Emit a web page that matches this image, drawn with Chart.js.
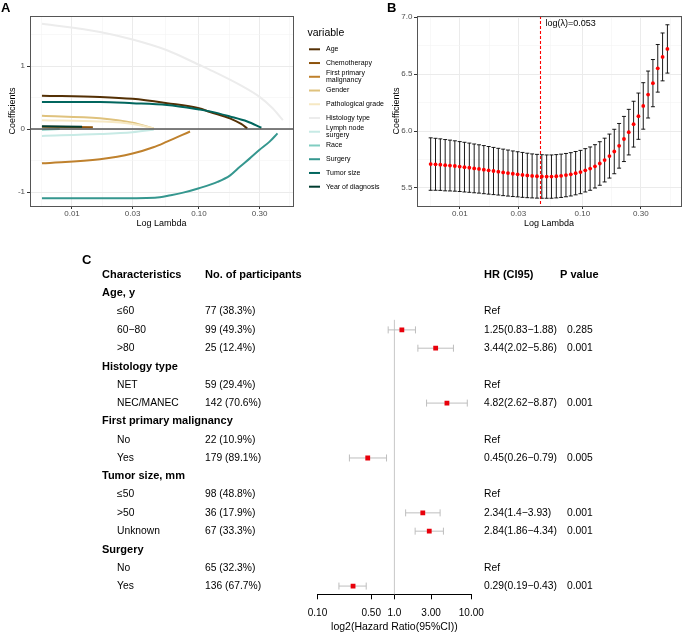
<!DOCTYPE html>
<html>
<head>
<meta charset="utf-8">
<script src="https://cdn.jsdelivr.net/npm/chart.js@4.4.1/dist/chart.umd.min.js"></script>
<style>
  body { margin: 0; background: #fff; }
  #wrap { position: relative; width: 685px; height: 635px; overflow: hidden; font-family: 'Liberation Sans', Arial, sans-serif; }
  canvas { position: absolute; }
  .tag { position: absolute; font-weight: bold; font-size: 13px; line-height: 13px; color: #000; }
</style>
</head>
<body>
<div id="wrap">
  <canvas id="chartA" width="410" height="235" style="left:0;top:0"></canvas>
  <canvas id="chartB" width="305" height="235" style="left:380px;top:0"></canvas>
  <canvas id="chartC" width="685" height="395" style="left:0;top:240px"></canvas>
  <div class="tag" style="left:1px;top:1px">A</div>
  <div class="tag" style="left:387px;top:1px">B</div>
  <div class="tag" style="left:82px;top:253px">C</div>
</div>
<script>
// ---- panel A: lasso coefficient paths, points are [lambda, coefficient]
const pathVars = ['Age', 'Chemotherapy', 'First primary\nmalignancy', 'Gender', 'Pathological grade',
  'Histology type', 'Lymph node\nsurgery', 'Race', 'Surgery', 'Tumor size', 'Year of diagnosis'];
const pathColors = ['#543005', '#8C510A', '#BF812D', '#DFC27D', '#F6E8C3', '#ECECEC',
  '#C7EAE5', '#80CDC1', '#35978F', '#01665E', '#003C30'];

const ageCoef = [[0.0058, 0.53], [0.0166, 0.51], [0.03, 0.48], [0.056, 0.41], [0.1, 0.33], [0.122, 0.27], [0.175, 0.17], [0.215, 0.08], [0.24, 0.01]];
const chemoCoef = [[0.0058, 0.035], [0.0146, 0.03]];
const firstCoef = [[0.0058, -0.545], [0.0166, -0.48], [0.03, -0.39], [0.0437, -0.29], [0.056, -0.2], [0.085, -0.04]];
const genderCoef = [[0.0058, 0.21], [0.0166, 0.17], [0.03, 0.10], [0.044, 0.01]];
const gradeCoef = [[0.0058, 0.14], [0.0166, 0.12], [0.03, 0.08], [0.044, 0.01]];
const histCoef = [[0.0058, 1.67], [0.0166, 1.54], [0.03, 1.42], [0.056, 1.25], [0.1, 1.02], [0.122, 0.94], [0.21, 0.70], [0.30, 0.51], [0.38, 0.33], [0.458, 0.14]];
const lymphCoef = [[0.0058, -0.11], [0.0166, -0.08], [0.03, -0.05], [0.044, -0.01]];
const raceCoef = [[0.0058, -0.01], [0.008, 0.0]];
const surgeryCoef = [[0.0058, -1.10], [0.02, -1.10], [0.045, -1.09], [0.06, -1.05], [0.075, -1.01], [0.1, -0.94], [0.14, -0.84], [0.175, -0.74], [0.21, -0.60], [0.25, -0.47], [0.30, -0.33], [0.36, -0.20], [0.415, -0.07]];
const tumorCoef = [[0.0058, 0.43], [0.0166, 0.43], [0.03, 0.41], [0.056, 0.38], [0.1, 0.31], [0.122, 0.28], [0.175, 0.20], [0.24, 0.12], [0.31, 0.02]];
const yearCoef = [[0.0058, 0.045], [0.012, 0.035]];
const pathData = [ageCoef, chemoCoef, firstCoef, genderCoef, gradeCoef, histCoef, lymphCoef, raceCoef, surgeryCoef, tumorCoef, yearCoef];

const lambdaTicks = [0.01, 0.03, 0.1, 0.3];
const lambdaMinor = [0.00577, 0.01733, 0.0548, 0.1733, 0.519];

// ---- panel B: cross-validation curve
const cvLambda = [0.00578, 0.00633, 0.00693, 0.00759, 0.00831, 0.00910, 0.00997, 0.01091, 0.01195, 0.01309,
  0.01433, 0.01569, 0.01718, 0.01882, 0.02061, 0.02257, 0.02471, 0.02706, 0.02963, 0.03245,
  0.03553, 0.03890, 0.04261, 0.04666, 0.05109, 0.05595, 0.06126, 0.06708, 0.07345, 0.08044,
  0.08808, 0.09645, 0.1056, 0.1157, 0.1267, 0.1387, 0.1519, 0.1663, 0.1821, 0.1994,
  0.2184, 0.2391, 0.2618, 0.2867, 0.3139, 0.3438, 0.3764, 0.4122, 0.4514, 0.4943];
const cvMean = [5.71, 5.708, 5.705, 5.70, 5.697, 5.693, 5.688, 5.683, 5.678, 5.672,
  5.667, 5.661, 5.655, 5.649, 5.643, 5.637, 5.631, 5.625, 5.62, 5.615,
  5.61, 5.606, 5.603, 5.601, 5.60, 5.60, 5.603, 5.607, 5.613, 5.62,
  5.63, 5.64, 5.655, 5.67, 5.69, 5.715, 5.745, 5.78, 5.82, 5.87,
  5.93, 5.99, 6.06, 6.13, 6.22, 6.32, 6.42, 6.55, 6.65, 6.72];
const cvSd = [0.230, 0.228, 0.226, 0.225, 0.223, 0.221, 0.219, 0.218, 0.216, 0.214,
  0.212, 0.211, 0.209, 0.207, 0.205, 0.204, 0.202, 0.200, 0.198, 0.197,
  0.195, 0.193, 0.192, 0.191, 0.190, 0.190, 0.190, 0.190, 0.190, 0.190,
  0.190, 0.190, 0.190, 0.190, 0.190, 0.191, 0.192, 0.193, 0.195, 0.196,
  0.198, 0.200, 0.201, 0.203, 0.204, 0.206, 0.207, 0.209, 0.210, 0.212];
const lambdaBest = 0.0447;
const lambdaText = 'log(λ)=0.053';
const cvTicks = [5.5, 6.0, 6.5, 7.0];
const cvMinor = [5.75, 6.25, 6.75];

// ---- panel C: forest table
const rowLabels = ['Age, y', '≤60', '60−80', '>80', 'Histology type', 'NET', 'NEC/MANEC',
  'First primary malignancy', 'No', 'Yes', 'Tumor size, mm', '≤50', '>50', 'Unknown', 'Surgery', 'No', 'Yes'];
const isGroup = [1, 0, 0, 0, 1, 0, 0, 1, 0, 0, 1, 0, 0, 0, 1, 0, 0];
const participants = ['', '77 (38.3%)', '99 (49.3%)', '25 (12.4%)', '', '59 (29.4%)', '142 (70.6%)',
  '', '22 (10.9%)', '179 (89.1%)', '', '98 (48.8%)', '36 (17.9%)', '67 (33.3%)', '', '65 (32.3%)', '136 (67.7%)'];
const hr = [null, null, 1.25, 3.44, null, null, 4.82, null, null, 0.45, null, null, 2.34, 2.84, null, null, 0.29];
const hrLow = [null, null, 0.83, 2.02, null, null, 2.62, null, null, 0.26, null, null, 1.4, 1.86, null, null, 0.19];
const hrHigh = [null, null, 1.88, 5.86, null, null, 8.87, null, null, 0.79, null, null, 3.93, 4.34, null, null, 0.43];
const hrText = ['', 'Ref', '1.25(0.83−1.88)', '3.44(2.02−5.86)', '', 'Ref', '4.82(2.62−8.87)',
  '', 'Ref', '0.45(0.26−0.79)', '', 'Ref', '2.34(1.4−3.93)', '2.84(1.86−4.34)', '', 'Ref', '0.29(0.19−0.43)'];
const pText = ['', '', '0.285', '0.001', '', '', '0.001', '', '', '0.005', '', '', '0.001', '0.001', '', '', '0.001'];
const headers = ['Characteristics', 'No. of participants', 'HR (CI95)', 'P value'];
const forestTicks = [0.1, 0.5, 1, 3, 10];
const forestTickLabels = ['0.10', '0.50', '1.0', '3.00', '10.00'];

Chart.defaults.font.family = "'Liberation Sans', Arial, sans-serif";
Chart.defaults.animation = false;
Chart.defaults.events = [];
Chart.defaults.plugins.legend.display = false;
Chart.defaults.plugins.tooltip.enabled = false;

const tickFont = { size: 8 };
const titleFont = { size: 9 };

function gridOpts(majors) {
  return {
    color: c => majors.includes(c.tick.value) ? '#EBEBEB' : '#F4F4F4',
    lineWidth: c => majors.includes(c.tick.value) ? 1 : 0.6,
    tickLength: 3,
    tickColor: c => majors.includes(c.tick.value) ? '#333' : 'rgba(0,0,0,0)'
  };
}
function setTicks(majors, minors, min, max) {
  return s => {
    s.ticks = majors.concat(minors).filter(v => v >= min && v <= max).sort((a, b) => a - b).map(v => ({ value: v }));
  };
}

const panelBox = {
  id: 'panelBox',
  afterDraw(chart) {
    const a = chart.chartArea, ctx = chart.ctx;
    ctx.save();
    ctx.strokeStyle = '#555';
    ctx.lineWidth = 1;
    ctx.strokeRect(Math.round(a.left) + 0.5, Math.round(a.top) + 0.5, Math.round(a.right - a.left), Math.round(a.bottom - a.top));
    ctx.restore();
  }
};

// zero line + legend for A
const pathExtras = {
  id: 'pathExtras',
  afterDatasetsDraw(chart) {
    const ctx = chart.ctx, a = chart.chartArea;
    const y0 = chart.scales.y.getPixelForValue(0);
    ctx.save();
    ctx.strokeStyle = '#555';
    ctx.lineWidth = 1.3;
    ctx.beginPath(); ctx.moveTo(a.left, y0); ctx.lineTo(a.right, y0); ctx.stroke();
    ctx.restore();
  },
  afterDraw(chart) {
    const ctx = chart.ctx;
    ctx.save();
    ctx.fillStyle = '#000';
    ctx.textBaseline = 'middle';
    ctx.font = "10.5px 'Liberation Sans', Arial";
    ctx.fillText('variable', 307.5, 33);
    ctx.font = "7px 'Liberation Sans', Arial";
    pathVars.forEach((name, i) => {
      const y = 49.3 + 13.74 * i;
      ctx.strokeStyle = pathColors[i];
      ctx.lineWidth = 2;
      ctx.beginPath(); ctx.moveTo(309, y); ctx.lineTo(320, y); ctx.stroke();
      const lines = name.split('\n');
      lines.forEach((t, j) => ctx.fillText(t, 326, y + (j - (lines.length - 1) / 2) * 7));
    });
    ctx.restore();
  }
};

new Chart(document.getElementById('chartA'), {
  type: 'scatter',
  data: {
    datasets: pathData.map((pts, i) => ({
      label: pathVars[i],
      data: pts.map(p => ({ x: p[0], y: p[1] })),
      showLine: true,
      borderColor: pathColors[i],
      backgroundColor: pathColors[i],
      borderWidth: 2,
      pointRadius: 0,
      cubicInterpolationMode: 'monotone',
      order: pathData.length - i
    }))
  },
  options: {
    responsive: false,
    layout: { padding: { left: 0, right: 117, top: 16, bottom: 0 } },
    scales: {
      x: {
        type: 'logarithmic', min: 0.00467, max: 0.55,
        afterBuildTicks: setTicks(lambdaTicks, lambdaMinor, 0.00467, 0.55),
        afterFit: s => { s.height = 29; },
        ticks: { autoSkip: false, maxRotation: 0, padding: 0, color: '#4D4D4D', font: tickFont,
          callback: v => lambdaTicks.includes(v) ? v.toFixed(2) : '' },
        grid: gridOpts(lambdaTicks),
        border: { display: false },
        title: { display: true, text: 'Log Lambda', color: '#000', font: titleFont, padding: { top: 0, bottom: 6 } }
      },
      y: {
        min: -1.222, max: 1.794,
        afterBuildTicks: setTicks([-1, 0, 1], [-0.5, 0.5, 1.5], -1.222, 1.794),
        afterFit: s => { s.width = 30; },
        ticks: { autoSkip: false, padding: 2, color: '#4D4D4D', font: tickFont,
          callback: v => [-1, 0, 1].includes(v) ? String(v) : '' },
        grid: gridOpts([-1, 0, 1]),
        border: { display: false },
        title: { display: true, text: 'Coefficients', color: '#000', font: titleFont, padding: { top: 7.3, bottom: 0 } }
      }
    }
  },
  plugins: [pathExtras, panelBox]
});

// error bars and best lambda for B
const cvExtras = {
  id: 'cvExtras',
  beforeDatasetsDraw(chart) {
    const ctx = chart.ctx, xs = chart.scales.x, ys = chart.scales.y;
    ctx.save();
    ctx.strokeStyle = '#000';
    ctx.lineWidth = 0.9;
    cvLambda.forEach((l, i) => {
      const x = xs.getPixelForValue(l);
      const yt = ys.getPixelForValue(cvMean[i] + cvSd[i]);
      const yb = ys.getPixelForValue(cvMean[i] - cvSd[i]);
      ctx.beginPath();
      ctx.moveTo(x, yt); ctx.lineTo(x, yb);
      ctx.moveTo(x - 2, yt); ctx.lineTo(x + 2, yt);
      ctx.moveTo(x - 2, yb); ctx.lineTo(x + 2, yb);
      ctx.stroke();
    });
    ctx.restore();
  },
  afterDatasetsDraw(chart) {
    const ctx = chart.ctx, xs = chart.scales.x, a = chart.chartArea;
    const xb = Math.round(xs.getPixelForValue(lambdaBest)) + 0.5;
    ctx.save();
    ctx.strokeStyle = '#FF0000';
    ctx.lineWidth = 1.1;
    ctx.setLineDash([3, 2]);
    ctx.beginPath(); ctx.moveTo(xb, a.top); ctx.lineTo(xb, a.bottom); ctx.stroke();
    ctx.setLineDash([]);
    ctx.fillStyle = '#000';
    ctx.font = "9px 'Liberation Sans', Arial";
    ctx.textBaseline = 'middle';
    ctx.fillText(lambdaText, xb + 5, 24);
    ctx.restore();
  }
};

new Chart(document.getElementById('chartB'), {
  type: 'scatter',
  data: {
    datasets: [{
      data: cvLambda.map((l, i) => ({ x: l, y: cvMean[i] })),
      pointRadius: 1.9,
      pointBackgroundColor: '#FF0000',
      pointBorderWidth: 0
    }]
  },
  options: {
    responsive: false,
    layout: { padding: { left: 0, right: 3, top: 16, bottom: 0 } },
    scales: {
      x: {
        type: 'logarithmic', min: 0.00447, max: 0.638,
        afterBuildTicks: setTicks(lambdaTicks, lambdaMinor, 0.00447, 0.638),
        afterFit: s => { s.height = 29; },
        ticks: { autoSkip: false, maxRotation: 0, padding: 0, color: '#4D4D4D', font: tickFont,
          callback: v => lambdaTicks.includes(v) ? v.toFixed(2) : '' },
        grid: gridOpts(lambdaTicks),
        border: { display: false },
        title: { display: true, text: 'Log Lambda', color: '#000', font: titleFont, padding: { top: 0, bottom: 6 } }
      },
      y: {
        min: 5.342, max: 7.009,
        afterBuildTicks: setTicks(cvTicks, cvMinor, 5.342, 7.009),
        afterFit: s => { s.width = 37; },
        ticks: { autoSkip: false, padding: 1.6, color: '#4D4D4D', font: tickFont,
          callback: v => cvTicks.includes(v) ? v.toFixed(1) : '' },
        grid: gridOpts(cvTicks),
        border: { display: false },
        title: { display: true, text: 'Coefficients', color: '#000', font: titleFont, padding: { top: 11.3, bottom: 0 } }
      }
    }
  },
  plugins: [cvExtras, panelBox]
});

// forest plot table + CI lines
const forestExtras = {
  id: 'forestExtras',
  beforeDatasetsDraw(chart) {
    const ctx = chart.ctx, xs = chart.scales.x, ys = chart.scales.y, a = chart.chartArea;
    ctx.save();
    const x1 = xs.getPixelForValue(1);
    ctx.strokeStyle = '#C8C8C8';
    ctx.lineWidth = 1;
    ctx.beginPath(); ctx.moveTo(x1, ys.getPixelForValue(2.45)); ctx.lineTo(x1, a.bottom); ctx.stroke();
    ctx.strokeStyle = '#BEBEBE';
    hr.forEach((v, j) => {
      if (v === null) return;
      const y = ys.getPixelForValue(j + 1);
      const xl = xs.getPixelForValue(hrLow[j]), xh = xs.getPixelForValue(hrHigh[j]);
      ctx.beginPath();
      ctx.moveTo(xl, y); ctx.lineTo(xh, y);
      ctx.moveTo(xl, y - 3.5); ctx.lineTo(xl, y + 3.5);
      ctx.moveTo(xh, y - 3.5); ctx.lineTo(xh, y + 3.5);
      ctx.stroke();
    });
    ctx.restore();
  },
  afterDraw(chart) {
    const ctx = chart.ctx, ys = chart.scales.y;
    const bold = "bold 11px 'Liberation Sans', Arial";
    const reg = "10.3px 'Liberation Sans', Arial";
    ctx.save();
    ctx.fillStyle = '#000';
    ctx.textBaseline = 'middle';
    ctx.font = bold;
    const y0 = ys.getPixelForValue(0);
    [102, 205, 484, 560].forEach((x, i) => ctx.fillText(headers[i], x, y0));
    rowLabels.forEach((lab, j) => {
      const y = ys.getPixelForValue(j + 1);
      if (isGroup[j]) {
        ctx.font = bold;
        ctx.fillText(lab, 102, y);
        return;
      }
      ctx.font = reg;
      ctx.fillText(lab, 117, y);
      ctx.fillText(participants[j], 205, y);
      ctx.fillText(hrText[j], 484, y);
      ctx.fillText(pText[j], 567, y);
    });
    ctx.restore();
  }
};

new Chart(document.getElementById('chartC'), {
  type: 'scatter',
  data: {
    datasets: [{
      data: hr.map((v, j) => v === null ? null : { x: v, y: j + 1 }).filter(p => p),
      pointStyle: 'rect',
      pointRadius: 3.4,
      pointBackgroundColor: '#E8000B',
      pointBorderWidth: 0
    }]
  },
  options: {
    responsive: false,
    layout: { padding: { left: 317.5, right: 213.7, top: 25.85, bottom: 0 } },
    scales: {
      x: {
        type: 'logarithmic', min: 0.1, max: 10,
        afterBuildTicks: s => { s.ticks = forestTicks.map(v => ({ value: v })); },
        afterFit: s => { s.height = 40.7; },
        ticks: { autoSkip: false, maxRotation: 0, padding: 8, color: '#000', font: { size: 10 },
          callback: (v, i) => forestTickLabels[i] },
        grid: { drawOnChartArea: false, tickLength: 5, color: '#000', tickColor: '#000' },
        border: { display: true, color: '#000', width: 1 },
        title: { display: true, text: 'log2(Hazard Ratio(95%CI))', color: '#000', font: { size: 10.5 }, padding: { top: 0, bottom: 1.7 } }
      },
      y: { display: false, reverse: true, min: -0.5, max: 17.45 }
    }
  },
  plugins: [forestExtras]
});
</script>
</body>
</html>
